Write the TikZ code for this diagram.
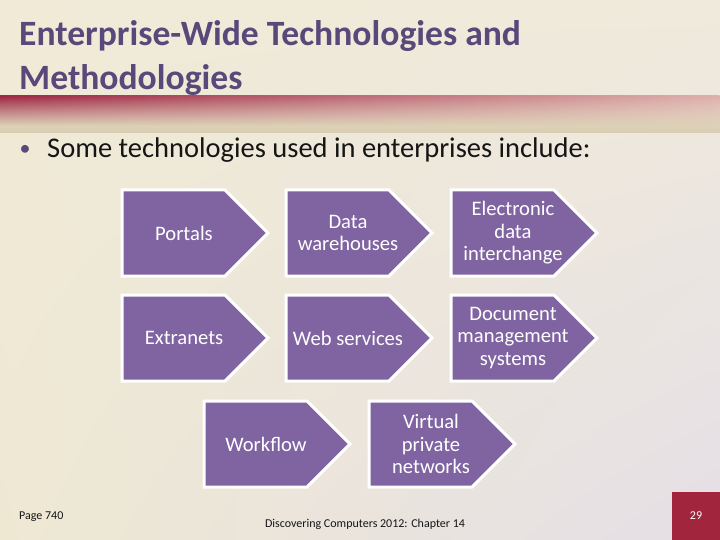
\documentclass[tikz,border=0pt]{standalone}
\usepackage{fontspec}
\setmainfont{Carlito}
\usetikzlibrary{fadings,shadings}
\definecolor{titlec}{HTML}{594879}
\definecolor{chevc}{HTML}{8064A2}
\definecolor{bgUL}{HTML}{F0EAD7}
\definecolor{bgUR}{HTML}{F0EADC}
\definecolor{bgLL}{HTML}{EEE8D3}
\definecolor{bgLR}{HTML}{E5DFE7}
\definecolor{bandred}{HTML}{9E2842}
\definecolor{bandmidred}{HTML}{BE6470}
\definecolor{bandpink}{HTML}{DDB0AC}
\definecolor{bandtop}{HTML}{EFE6D6}
\definecolor{bandmid}{HTML}{F1EAD5}
\definecolor{bandbot}{HTML}{D8CDB0}
\definecolor{pagered}{HTML}{A2253E}
\definecolor{bodytext}{HTML}{151515}
\tikzfading[name=bandfade, top color=transparent!0, middle color=transparent!25, bottom color=transparent!100]
\tikzset{
  chevpath/.style={fill=chevc, draw=white, line width=3pt, line join=miter},
  chevtext/.style={text=white, align=center, inner sep=0pt, font=\fontsize{20.6}{22.5}\selectfont},
  titletext/.style={text=titlec, anchor=base west, inner sep=0pt, font=\fontsize{35.6}{44}\selectfont\bfseries},
  foottext/.style={text=bodytext, inner sep=0pt, font=\fontsize{12}{14}\selectfont}
}
\newcommand\mychev[4]{%
  \path[chevpath] (#2,#3) -- ++(103,0) -- ++(43,43) -- ++(-43,43) -- ++(-103,0) -- cycle;
  \node[chevtext] (#1) at (#2+62,#3+43) {#4};
}
\begin{document}
\begin{tikzpicture}[x=1pt,y=-1pt]
\useasboundingbox (0,0) rectangle (720,540);
% background
\shade[upper left=bgUL, upper right=bgUR, lower left=bgLL, lower right=bgLR] (0,0) rectangle (720,540);
% band
\shade[top color=bandtop, middle color=bandmid, bottom color=bandbot] (0,96) rectangle (720,133);
\shade[left color=bandred, middle color=bandmidred, right color=bandpink, path fading=bandfade] (0,96) rectangle (720,126);
% title
\node[titletext] (t1) at (19,46) {Enterprise-Wide Technologies and};
\node[titletext] (t2) at (19,90) {Methodologies};
% bullet
\node[text=titlec, anchor=base, inner sep=0pt, font=\fontsize{22}{24}\selectfont] (bul) at (25,156) {•};
\node[text=bodytext, anchor=base west, inner sep=0pt, font=\fontsize{28.5}{30}\selectfont] (b1) at (47,158) {Some technologies used in enterprises include:};
% chevrons
\mychev{portals}{122}{190}{Portals}
\mychev{dataw}{286}{190}{Data\\warehouses}
\mychev{edi}{451}{190}{Electronic\\data\\interchange}
\mychev{extra}{122}{295}{Extranets}
\mychev{webs}{286}{295}{Web services}
\mychev{dms}{451}{295}{Document\\management\\systems}
\mychev{workf}{204}{401}{Workflow}
\mychev{vpn}{369}{401}{Virtual\\private\\networks}
% footer
\node[foottext, anchor=base west] (pg) at (19,519) {Page 740};
\node[foottext, anchor=base] (ft) at (365,527) {Discovering Computers 2012: Chapter 14};
\fill[pagered] (672,492) rectangle (720,540);
\node[foottext, text=white, anchor=base] (num) at (696,519) {29};
\end{tikzpicture}
\end{document}
